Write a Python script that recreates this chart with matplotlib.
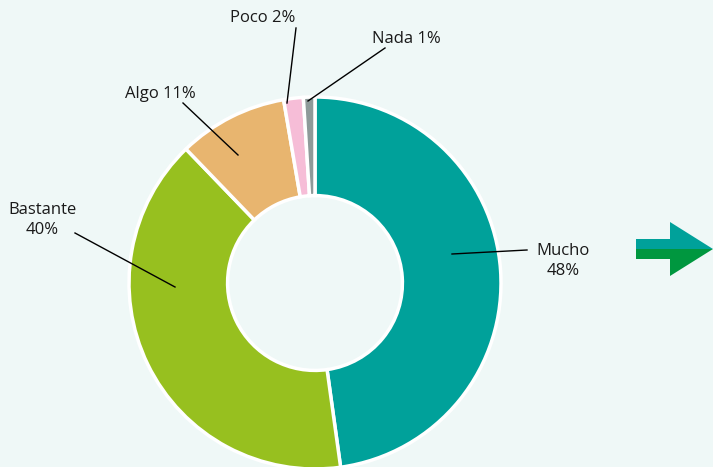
import matplotlib.pyplot as plt
from matplotlib.patches import Polygon

labels = ["Mucho", "Bastante", "Algo", "Poco", "Nada"]
values = [47.8, 40.0, 9.5, 1.7, 1.0]
colors = ["#00a19a", "#97c01f", "#e8b56f", "#f6bdd7", "#8e9a99"]
label_texts = ["Mucho\n48%", "Bastante\n40%", "Algo 11%", "Poco 2%", "Nada 1%"]

# label placement (text position, line start, line end) in pixel-like coordinates
text_pos = [(563, 206), (42, 247), (160, 373), (263, 449), (406, 428)]
line_from = [(527, 217), (75, 234), (183, 364), (296, 439), (385, 419)]
line_to = [(452, 213), (175, 180), (238, 312), (287, 364), (308, 366)]

bg = "#eff8f7"
fig = plt.figure(figsize=(7.13, 4.67), dpi=100, facecolor=bg)
ax = fig.add_axes([0, 0, 1, 1])
ax.set_facecolor(bg)

ax.pie(values, colors=colors, startangle=90, counterclock=False,
       center=(315, 283 - 99), radius=186, frame=True,
       wedgeprops=dict(width=186 * 0.53, edgecolor="white", linewidth=2.5))
ax.set_xlim(0, 713)
ax.set_ylim(0, 467)
ax.set_aspect("equal")
ax.axis("off")

for t, tp, a, b in zip(label_texts, text_pos, line_from, line_to):
    ax.plot([a[0], b[0]], [a[1], b[1]], color="black", lw=1)
    ax.text(tp[0], tp[1], t, ha="center", va="center", fontsize=12,
            family="Open Sans", color="#1a1a1a", linespacing=1.4)

# arrow on the right
ax.add_patch(Polygon([(636, 218), (636, 228), (670, 228), (670, 245), (713, 218)],
                     closed=True, color="#00a19a", lw=0))
ax.add_patch(Polygon([(636, 218), (636, 208), (670, 208), (670, 191), (713, 218)],
                     closed=True, color="#00973f", lw=0))

fig.savefig("out.png", dpi=100, facecolor=bg)
